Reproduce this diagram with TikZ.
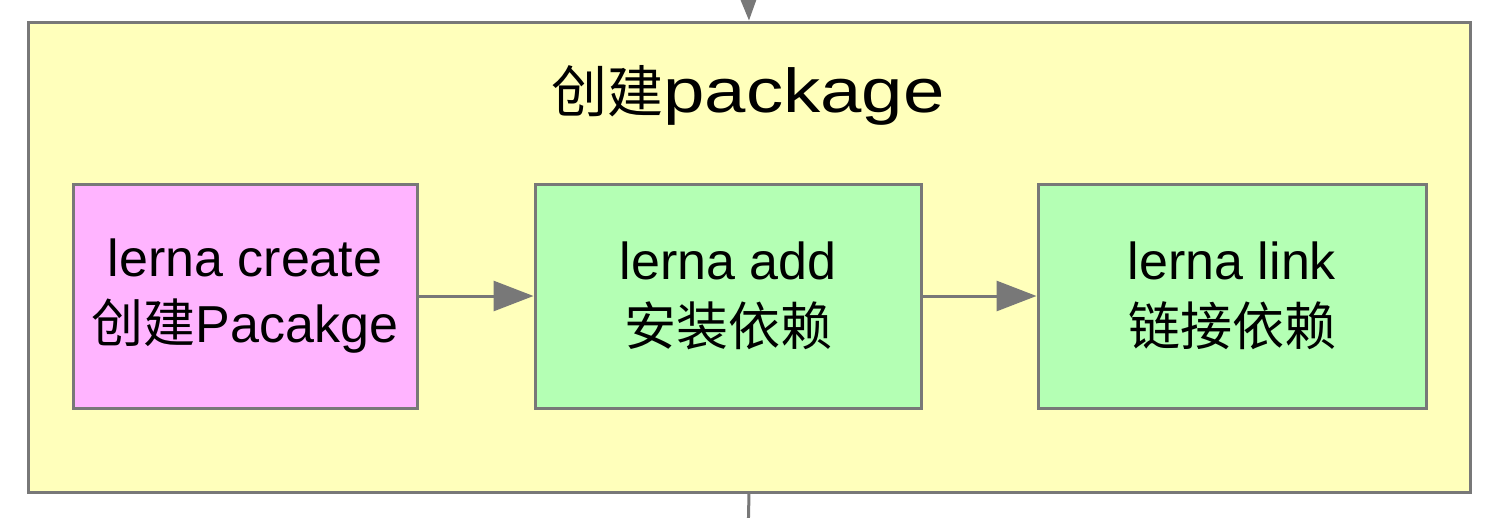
\documentclass[tikz,border=0pt]{standalone}
\usepackage{fontspec}
\setmainfont{Liberation Sans}
\newfontfamily\cjk{Noto Sans CJK SC}
\newfontfamily\titlefont[FakeStretch=1.2]{Liberation Sans}
\usetikzlibrary{arrows.meta}
\definecolor{fondjaune}{RGB}{255,255,187}
\definecolor{fondrose}{RGB}{255,180,255}
\definecolor{fondvert}{RGB}{180,255,180}
\definecolor{bordgris}{RGB}{120,120,120}

\begin{document}
\begin{tikzpicture}[x=1pt, y=-1pt, line width=3pt,
    boite/.style={draw=bordgris, minimum width=#1, minimum height=224pt, inner sep=0pt, align=center, font=\fontsize{52}{66}\selectfont},
    fleche/.style={draw=bordgris, -{Triangle[length=40pt,width=30pt]}}]
    \path[use as bounding box, fill=white] (0,0) rectangle (1508,517);
    % cadre principal et son titre
    \node[draw=bordgris, fill=fondjaune, minimum width=1442pt, minimum height=470pt, inner sep=0pt] (cadre) at (749,257) {};
    \node[anchor=base] (titre) at (748,112) {{\cjk\fontsize{56}{60}\selectfont 创建}{\titlefont\fontsize{62}{70}\selectfont package}};
    \node[boite=344pt, fill=fondrose] (create) at (245,296) {lerna create\\{\cjk 创建}Pacakge};
    \node[boite=386pt, fill=fondvert] (add) at (728,296) {lerna add\\{\cjk 安装依赖}};
    \node[boite=388pt, fill=fondvert] (link) at (1232,296) {lerna link\\{\cjk 链接依赖}};
    \draw[fleche] (create) -- (add);
    \draw[fleche] (add) -- (link);
    \coordinate (haut) at (748,-20); \coordinate (bas) at (748,540);
    \draw[fleche] (haut) -- (cadre.north);
    \draw[bordgris] (cadre.south) -- (bas);
\end{tikzpicture}
\end{document}
